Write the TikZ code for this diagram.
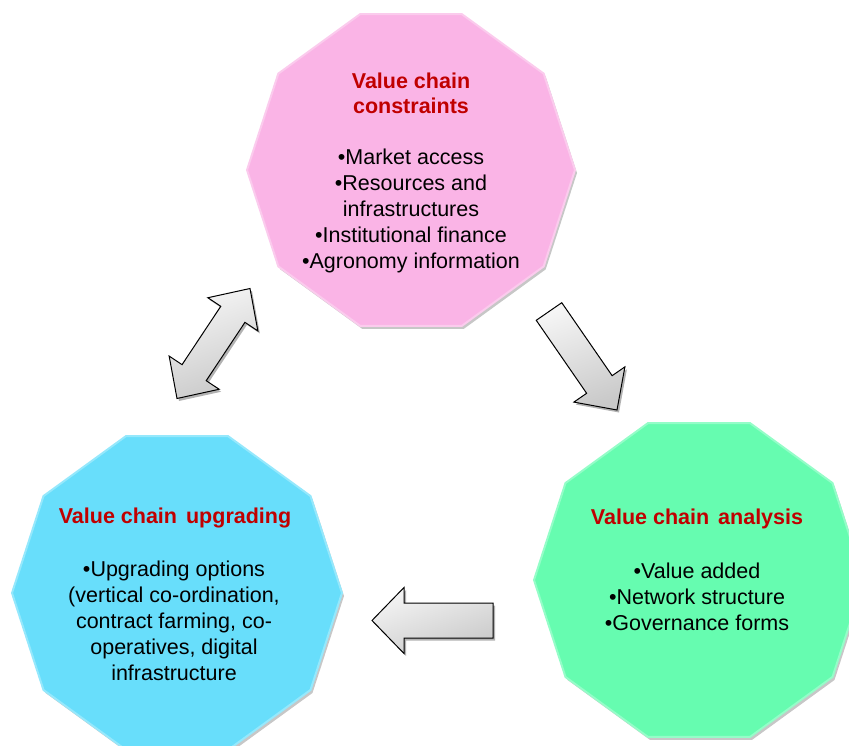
\documentclass[tikz,border=0pt]{standalone}
\usepackage{fontspec}
\setmainfont{Liberation Sans}
\usetikzlibrary{calc,shadows}

\definecolor{pinkfill}{RGB}{250,180,230}
\definecolor{bluefill}{RGB}{104,222,251}
\definecolor{greenfill}{RGB}{102,252,176}
\definecolor{titlered}{RGB}{192,0,0}

\tikzset{
  decagon/.style={fill=#1, draw=#1!70!white, line width=2pt,
    drop shadow={shadow xshift=2pt, shadow yshift=-3pt, opacity=0.22, fill=black}},
  blockarrow/.style={draw=black, line width=1pt, line join=miter,
    top color=gray!8, bottom color=gray!42, shading angle=20,
    drop shadow={shadow xshift=2pt, shadow yshift=-2.5pt, opacity=0.3, fill=black}},
  heading/.style={font=\fontsize{21.5}{25}\selectfont\bfseries, text=titlered, align=center, inner sep=0pt},
  body/.style={font=\fontsize{21.5}{26}\selectfont, text=black, align=center, inner sep=0pt}
}

% regular ten-sided outline with a flat top, around a named centre
\newcommand\decagonshape[3]{%
  \path[decagon=#3] ($(#1)+(0:#2)$)
    \foreach \a in {36,72,...,324}{ -- ($(#1)+(\a:#2)$) } -- cycle;
}

% block arrow from a tail point to a tip point
% #3 half shaft width, #4 half head width, #5 head length (all in pt)
\newcommand\singlearrow[5]{%
  \coordinate (hd) at ($(#2)!#5pt!(#1)$);
  \path[blockarrow]
    ($(#1)!#3pt!90:(#2)$) -- ($(hd)!#3pt!90:(#2)$) -- ($(hd)!#4pt!90:(#2)$) -- (#2)
    -- ($(hd)!#4pt!-90:(#2)$) -- ($(hd)!#3pt!-90:(#2)$) -- ($(#1)!#3pt!-90:(#2)$) -- cycle;
}

% block arrow with a head at each end
\newcommand\doublearrow[5]{%
  \coordinate (ha) at ($(#1)!#5pt!(#2)$);
  \coordinate (hb) at ($(#2)!#5pt!(#1)$);
  \path[blockarrow]
    (#1) -- ($(ha)!#4pt!90:(#2)$) -- ($(ha)!#3pt!90:(#2)$) -- ($(hb)!#3pt!90:(#2)$)
    -- ($(hb)!#4pt!90:(#2)$) -- (#2) -- ($(hb)!#4pt!-90:(#2)$) -- ($(hb)!#3pt!-90:(#2)$)
    -- ($(ha)!#3pt!-90:(#2)$) -- ($(ha)!#4pt!-90:(#2)$) -- cycle;
}

\begin{document}
\begin{tikzpicture}[x=1pt,y=-1pt]
\useasboundingbox (0,0) rectangle (849,746);
\clip (0,0) rectangle (849,746);

% centres of the three stages
\coordinate (cons) at (411,170);
\coordinate (anal) at (699,580);
\coordinate (upgr) at (177,593);

\decagonshape{cons}{164}{pinkfill}
\decagonshape{anal}{165}{greenfill}
\decagonshape{upgr}{165}{bluefill}

% stage texts
\node[heading] (consT) at (411,93) {Value chain\\constraints};
\node[body] (consB) at (411,211) {•Market access\\•Resources and\\infrastructures\\•Institutional finance\\•Agronomy information};

\node[heading] (analT) at (697,519) {Value chain\hspace{3pt} analysis};
\node[body] (analB) at (697,597) {•Value added\\•Network structure\\•Governance forms};

\node[heading] (upgrT) at (175,518) {Value chain\hspace{3pt} upgrading};
\node[body] (upgrB) at (174,621) {•Upgrading options\\(vertical co-ordination,\\contract farming, co-\\operatives, digital\\infrastructure};

% flow arrows between the stages
\coordinate (a1tail) at (549,311.5);
\coordinate (a1tip) at (617,410);
\singlearrow{a1tail}{a1tip}{15.5}{31}{31}

\coordinate (a2tail) at (493,620.5);
\coordinate (a2tip) at (372,620.5);
\singlearrow{a2tail}{a2tip}{17.5}{33}{32}

\coordinate (a3top) at (250,288.5);
\coordinate (a3bot) at (177,398.5);
\doublearrow{a3top}{a3bot}{14.5}{30}{31}
\end{tikzpicture}
\end{document}
